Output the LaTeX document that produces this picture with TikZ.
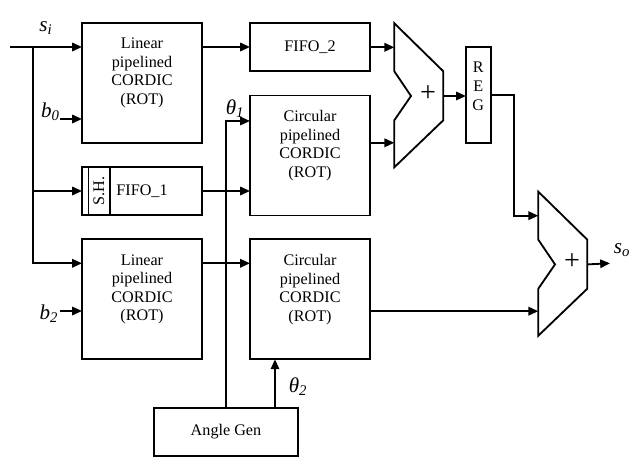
\documentclass[tikz,border=0pt]{standalone}
\usepackage{fontspec}
\setmainfont{Liberation Serif}
\usetikzlibrary{
  arrows.meta
}
\definecolor{inkC}{HTML}{000000}
\definecolor{paperC}{HTML}{FFFFFF}

\begin{document}
\begin{tikzpicture}[
  x=0.025cm,
  y=-0.025cm,
  line join=miter,
  blk/.style={draw=inkC, line width=1.3pt},
  box/.style={blk, rectangle, inner sep=0pt, outer sep=0pt,
    align=center, font=\fontsize{11.5}{13.2}\selectfont},
  txt/.style={inner sep=0pt, align=center,
    font=\fontsize{11.5}{13.2}\selectfont},
  wire/.style={inkC, line width=1.3pt},
  arr/.style={wire, -{Triangle[length=7pt,width=6pt]}},
  lbl/.style={inner sep=0pt, font=\fontsize{15}{15}\selectfont\itshape},
  adder/.pic={
    \draw[blk] (0,0) -- (49,48) -- (49,97) -- (0,144)
      -- (0,97) -- (16.7,72.7) -- (0,48) -- cycle;
    \node[inner sep=0pt, font=\fontsize{20}{20}\selectfont] (-plus) at (33.7,70) {+};
    \coordinate (-in1) at (0,24);
    \coordinate (-in2) at (0,119.5);
    \coordinate (-out) at (49,72.7);
  }
]

\useasboundingbox[fill=paperC] (0,0) rectangle (637,457);

% CORDIC blocks
\node[box, minimum width=3cm, minimum height=3cm] (lin1) at (142,83) {};
\node[txt, anchor=north] (lin1txt) at ([yshift=-10.5pt]lin1.north)
  {Linear\\pipelined\\CORDIC\\(ROT)};
\node[box, minimum width=3cm, minimum height=3cm] (lin2) at (142,299.3) {};
\node[txt, anchor=north] (lin2txt) at ([yshift=-10.5pt]lin2.north)
  {Linear\\pipelined\\CORDIC\\(ROT)};
\node[box, minimum width=3cm, minimum height=3cm] (cir1) at (310,155.5) {};
\node[txt, anchor=north] (cir1txt) at ([yshift=-10.5pt]cir1.north)
  {Circular\\pipelined\\CORDIC\\(ROT)};
\node[box, minimum width=3cm, minimum height=3cm] (cir2) at (310,299.3) {};
\node[txt, anchor=north] (cir2txt) at ([yshift=-10.5pt]cir2.north)
  {Circular\\pipelined\\CORDIC\\(ROT)};

% FIFOs, register, angle generator
\node[box, minimum width=3cm, minimum height=1.2cm] (fifo2) at (310,47) {FIFO\_2};
\node[box, minimum width=3cm, minimum height=1.2cm] (fifo1) at (142,191) {FIFO\_1};
\draw[wire] ([xshift=0.1625cm]fifo1.north west) -- ([xshift=0.1625cm]fifo1.south west);
\draw[wire] ([xshift=0.7cm]fifo1.north west) -- ([xshift=0.7cm]fifo1.south west);
\node[txt, rotate=90] (sh) at (99,191) {S.H.};
\node[box, minimum width=0.6175cm, minimum height=2.4cm] (reg) at (478.3,95.3) {};
\node[txt, anchor=north] (regtxt) at ([yshift=-10.5pt]reg.north) {R\\E\\G};
\node[box, minimum width=3.6cm, minimum height=1.2cm] (agen) at (226,431.7) {Angle Gen};

% Adders
\pic (a1) at (394.3,23.3) {adder};
\pic (a2) at (538.3,191.7) {adder};

% Input s_i and its fan-out
\coordinate (si) at (10,47);
\coordinate (trunk) at (33,47);
\coordinate (lin2in) at ([yshift=0.9cm]lin2.west);
\draw[arr] (si) -- (si -| lin1.west);
\draw[arr] (trunk) |- (fifo1.west);
\draw[arr] (trunk) |- (lin2in);

% Constant inputs
\coordinate (b0) at (60,119);
\coordinate (b2) at (60,311);
\draw[arr] (b0) -- (b0 -| lin1.west);
\draw[arr] (b2) -- (b2 -| lin2.west);

% Data path
\draw[arr] (lin1.east |- si) -- (fifo2.west |- si);
\draw[arr] (fifo1.east) -- (fifo1.east -| cir1.west);
\draw[arr] (lin2in -| lin2.east) -- (lin2in -| cir2.west);
\draw[arr] (fifo2.east |- a1-in1) -- (a1-in1);
\draw[arr] (a1-in2 -| cir1.east) -- (a1-in2);
\draw[arr] (a1-out) -- (a1-out -| reg.west);
\coordinate (regturn) at (514.3,95.3);
\draw[arr] (reg.east) -- (regturn) |- (a2-in1);
\draw[arr] (a2-in2 -| cir2.east) -- (a2-in2);
\coordinate (so) at (610,263.3);
\draw[arr] (a2-out) -- (so);

% Angles
\coordinate (th1) at ([yshift=0.8625cm]cir1.west);
\draw[arr] (agen.north) |- (th1);
\coordinate (th2) at (275,407.7);
\draw[arr] (th2) -- (th2 |- cir2.south);

% Labels
\node[lbl] (silbl) at (46,28.5) {s\textsubscript{i}};
\node[lbl] (b0lbl) at (50.5,111.5) {b\textsubscript{0}};
\node[lbl] (b2lbl) at (49,314) {b\textsubscript{2}};
\node[lbl] (th1lbl) at (235,109) {θ\textsubscript{1}};
\node[lbl] (th2lbl) at (298,387) {θ\textsubscript{2}};
\node[lbl] (solbl) at (622,250) {s\textsubscript{o}};

\end{tikzpicture}
\end{document}
